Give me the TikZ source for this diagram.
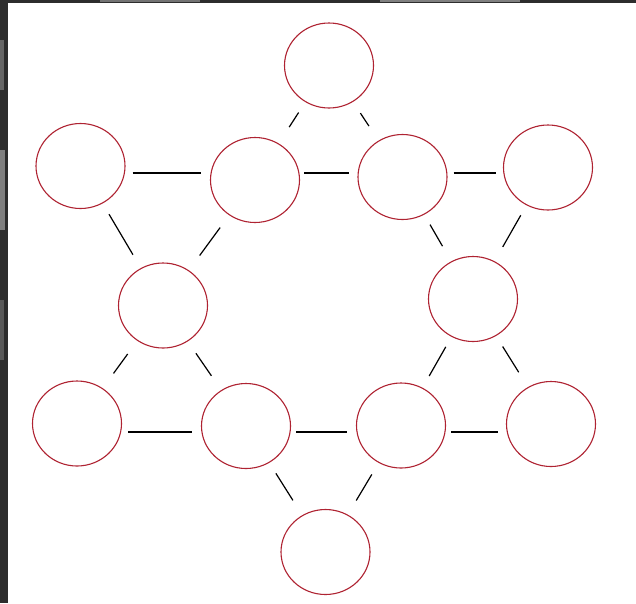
\documentclass[tikz,border=0pt]{standalone}
\usetikzlibrary{shapes.geometric,calc}
\definecolor{ringred}{RGB}{175,35,50}
\definecolor{bgdark}{RGB}{45,45,45}
\tikzset{
  ring/.style={draw=ringred, line width=1.1pt, ellipse, minimum width=89pt, minimum height=85pt, inner sep=0pt, fill=white},
  link/.style={draw=black, line width=1.2pt}
}
\newcommand{\lnk}[4]{\draw[link] ($(#1)!#3pt!(#2)$) -- ($(#2)!#4pt!(#1)$);}
\begin{document}
\begin{tikzpicture}[x=1pt,y=-1pt]
\useasboundingbox (0,0) rectangle (636,603);
\fill[bgdark] (0,0) rectangle (636,603);
\fill[black!60] (0,40) rectangle (4,90);
\fill[black!50] (0,150) rectangle (5,230);
\fill[black!65] (0,300) rectangle (4,360);
\fill[black!55] (100,0) rectangle (200,2);
\fill[black!50] (380,0) rectangle (520,2);
\fill[white] (8,3) rectangle (636,603);
% nodes
\node[ring] (T) at (329,65.5) {};
\node[ring] (A) at (80.5,166) {};
\node[ring] (B) at (255,180) {};
\node[ring] (C) at (402.5,177) {};
\node[ring] (D) at (548,167.5) {};
\node[ring] (E) at (163,305.5) {};
\node[ring] (F) at (473,299) {};
\node[ring] (G) at (77,423.5) {};
\node[ring] (H) at (246,426) {};
\node[ring] (I) at (401,425.5) {};
\node[ring] (J) at (551,424) {};
\node[ring] (K) at (325.5,552) {};
\coordinate (r1) at (0,173);
\coordinate (r2) at (0,432);
% horizontal connectors
\draw[link] ([xshift=7pt]A.east |- r1) -- ([xshift=-9pt]B.west |- r1);
\draw[link] ([xshift=4pt]B.east |- r1) -- ([xshift=-8pt]C.west |- r1);
\draw[link] ([xshift=6pt]C.east |- r1) -- ([xshift=-7pt]D.west |- r1);
\draw[link] ([xshift=6pt]G.east |- r2) -- ([xshift=-9pt]H.west |- r2);
\draw[link] ([xshift=5pt]H.east |- r2) -- ([xshift=-9pt]I.west |- r2);
\draw[link] ([xshift=5pt]I.east |- r2) -- ([xshift=-8pt]J.west |- r2);
% diagonal connectors
\lnk{T}{B}{56}{63}
\lnk{T}{C}{57}{61}
\lnk{A}{E}{56}{59}
\lnk{B}{E}{59}{62}
\lnk{C}{F}{55}{61}
\lnk{D}{F}{55}{60}
\lnk{E}{G}{60}{62}
\lnk{E}{H}{58}{61}
\lnk{F}{I}{55}{57}
\lnk{F}{J}{56}{61}
\lnk{H}{K}{56}{61}
\lnk{I}{K}{57}{60}
\end{tikzpicture}
\end{document}
